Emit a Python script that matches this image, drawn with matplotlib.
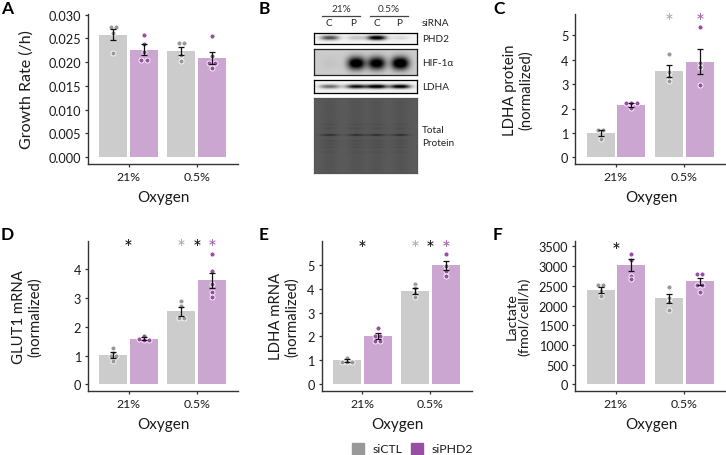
import numpy as np
import matplotlib
matplotlib.use("Agg")
import matplotlib.pyplot as plt

plt.rcParams['font.family'] = ['Lato', 'DejaVu Sans']

W, H = 726, 456
GROUPS = ["21%", "0.5%"]
XLABEL = "Oxygen"
GREY, PURPLE = "#999999", "#984ea3"
BAR_GREY, BAR_PURPLE = "#cccccc", "#cba6d1"

# ---- panel A
a_means = [0.0258, 0.0226, 0.0223, 0.0209]
a_sems = [0.0011, 0.0012, 0.0008, 0.0012]
a_points = [[0.0274, 0.0274, 0.0262, 0.0219],
            [0.0257, 0.0239, 0.0221, 0.02045, 0.02045],
            [0.0240, 0.0240, 0.0214, 0.0202],
            [0.0254, 0.0212, 0.0198, 0.0198, 0.0188]]
a_yticks = [0.000, 0.005, 0.010, 0.015, 0.020, 0.025, 0.030]
# ---- panel C
c_means = [1.0, 2.15, 3.55, 3.92]
c_sems = [0.14, 0.07, 0.25, 0.50]
c_points = [[1.10, 1.10, 0.74], [2.21, 2.21, 2.21, 2.02],
            [4.24, 3.51, 3.30, 3.13], [5.34, 3.87, 3.69, 2.95]]
c_yticks = [0, 1, 2, 3, 4, 5]
# ---- panel D
d_means = [1.02, 1.59, 2.54, 3.63]
d_sems = [0.10, 0.05, 0.15, 0.26]
d_points = [[1.26, 1.08, 0.99, 0.99, 0.81], [1.70, 1.58, 1.56, 1.56],
            [2.90, 2.72, 2.31, 2.31], [4.53, 3.93, 3.49, 3.20, 3.05]]
d_yticks = [0, 1, 2, 3, 4]
# ---- panel E
e_means = [1.0, 2.02, 3.90, 4.98]
e_sems = [0.07, 0.11, 0.12, 0.19]
e_points = [[1.10, 0.93, 0.93, 0.93], [2.37, 2.03, 2.03, 1.82, 1.82],
            [4.19, 4.01, 3.80, 3.63], [5.45, 4.96, 4.73, 4.54]]
e_yticks = [0, 1, 2, 3, 4, 5]
# ---- panel F
f_means = [2392, 3026, 2180, 2612]
f_sems = [70, 145, 115, 95]
f_points = [[2510, 2510, 2375, 2230], [3305, 3160, 2755, 2680],
            [2460, 2190, 2100, 1893], [2800, 2800, 2527, 2527, 2350]]
f_yticks = [0, 500, 1000, 1500, 2000, 2500, 3000, 3500]
# significance stars: (x position in group units, colour key)
star_pos_d = [(0.0, 'k'), (0.775, 'g'), (1.0, 'k'), (1.225, 'p')]
star_pos_c = [(0.775, 'g'), (1.225, 'p')]
star_pos_f = [(0.0, 'k')]
STAR_COL = {'k': '#111111', 'g': '#a8a8a8', 'p': '#a45db0'}

DODGE, BARW = 0.225, 0.41
XLIM = (-0.594, 1.605)


def add_axes(l, t, r, b):
    return fig.add_axes([l / W, 1 - b / H, (r - l) / W, (b - t) / H])


def ftext(x, y, s, **kw):
    kw.setdefault('ha', 'left')
    kw.setdefault('va', 'center')
    fig.text(x / W, 1 - y / H, s, **kw)


def dots_x(values, ylim, height_px, centre, px_per_unit=68.2):
    vals = sorted(values, reverse=True)
    per_px = (ylim[1] - ylim[0]) / height_px
    bins = []
    for v in vals:
        if bins and abs(bins[-1][0] - v) < 2.0 * per_px:
            bins[-1].append(v)
        else:
            bins.append([v])
    xs, ys = [], []
    for bn in bins:
        n = len(bn)
        for i, v in enumerate(bn):
            xs.append(centre + (i - (n - 1) / 2) * 5.3 / px_per_unit)
            ys.append(v)
    return xs, ys


def panel(box, ylim, yticks, means, sems, points, ylabel, ylx, stars=None,
          star_y=None, fmt=None, ylfs=10.7):
    ax = add_axes(*box)
    ax.set_xlim(*XLIM)
    ax.set_ylim(*ylim)
    cents = [-DODGE, DODGE, 1 - DODGE, 1 + DODGE]
    cols = [GREY, PURPLE, GREY, PURPLE]
    bars = [BAR_GREY, BAR_PURPLE, BAR_GREY, BAR_PURPLE]
    ax.bar(cents, means, width=BARW, color=bars, linewidth=0, zorder=1)
    for c, col, pts in zip(cents, cols, points):
        xs, ys = dots_x(pts, ylim, box[3] - box[1], c)
        ax.scatter(xs, ys, s=13, color=col, edgecolor='white', linewidth=0.6,
                   zorder=2, clip_on=False)
    ax.errorbar(cents, means, yerr=sems, fmt='none', ecolor='#111111',
                elinewidth=0.9, capsize=2.5, capthick=0.9, zorder=3)
    for s in ('top', 'right'):
        ax.spines[s].set_visible(False)
    for s in ('left', 'bottom'):
        ax.spines[s].set_color('#333333')
        ax.spines[s].set_linewidth(1.0)
    ax.set_xticks([0, 1], GROUPS)
    ax.set_yticks(yticks)
    if fmt:
        ax.set_yticklabels([fmt % t for t in yticks])
    ax.tick_params(axis='both', length=2.5, width=0.9, color='#333333',
                   labelsize=8.8, labelcolor='#1a1a1a', pad=2.5)
    ax.tick_params(axis='y', labelsize=9.2)
    ftext((box[0] + box[2]) / 2 + 0.5, box[3] + 33, XLABEL, ha='center',
          fontsize=11, color='#1a1a1a')
    ftext(ylx, (box[1] + box[3]) / 2, ylabel, ha='center', rotation=90,
          fontsize=ylfs, color='#1a1a1a', linespacing=1.1, multialignment='center')
    if stars:
        for x, k in stars:
            ax.text(x, star_y, "*", ha='center', va='center', fontsize=15,
                    color=STAR_COL[k], clip_on=False)
    return ax


fig = plt.figure(figsize=(W / 100, H / 100), dpi=100, facecolor='white')

panel((88, 15, 238, 164.7), (-0.0014, 0.03014), a_yticks, a_means, a_sems,
      a_points, "Growth Rate (/h)", 27, fmt="%.3f", ylfs=11.5)
panel((575.3, 15, 725.7, 164.7), (-0.26, 5.87), c_yticks, c_means, c_sems,
      c_points, "LDHA protein\n(normalized)", 518, stars=star_pos_c, star_y=5.56)
panel((88, 241.7, 238, 391.7), (-0.22, 5.0), d_yticks, d_means, d_sems,
      d_points, "GLUT1 mRNA\n(normalized)", 27, stars=star_pos_d, star_y=4.73)
panel((321.7, 241.7, 471.7, 391.7), (-0.265, 6.0), e_yticks, e_means, e_sems,
      e_points, "LDHA mRNA\n(normalized)", 284, stars=star_pos_d, star_y=5.66)
panel((575.3, 241.7, 725.7, 391.7), (-160, 3643), f_yticks, f_means, f_sems,
      f_points, "Lactate\n(fmol/cell/h)", 518, stars=star_pos_f, star_y=3375,
      ylfs=10.4)

# ---- panel letters
for s, x, y in [("A", 1, 8.5), ("B", 259, 8.5), ("C", 493, 8.5),
                ("D", 1, 235), ("E", 259, 235), ("F", 493, 235)]:
    ftext(x, y, s, fontsize=12.5, fontweight='bold', color='black')

# ---- western blots (panel B): lane centres and band strengths
lane_x = [0.15, 0.41, 0.61, 0.84]
phd2_bands = [0.62, 0.18, 1.0, 0.10]
hif_bands = [0.03, 0.90, 0.85, 0.95]
ldha_bands = [0.50, 0.85, 1.0, 0.95]
total_bands_y = [0.36, 0.41, 0.50, 0.58, 0.62, 0.66, 0.73]
total_bands_s = [0.12, 0.15, 0.85, 0.15, 0.15, 0.12, 0.1]


def blot(box, image, border, vmax=1.0):
    ax = add_axes(*box)
    ax.imshow(image, cmap='gray', vmin=0, vmax=vmax, aspect='auto',
              interpolation='bilinear')
    ax.set_xticks([])
    ax.set_yticks([])
    for s in ax.spines.values():
        s.set_color(border)
        s.set_linewidth(0.9)


def band_image(strengths, sx, sy, cy, bg, ny=40, nx=120):
    yy, xx = np.mgrid[0:1:ny * 1j, 0:1:nx * 1j]
    dark = np.zeros_like(xx)
    for cx, st in zip(lane_x, strengths):
        dark += st * np.exp(-((np.abs(xx - cx) / sx) ** 2.5) - ((yy - cy) / sy) ** 2)
    return np.clip(bg - dark * 1.1, 0, 1)


blot((314.3, 33.7, 417, 45.3), band_image(phd2_bands, 0.09, 0.2, 0.48, 0.96), 'black')
blot((314.3, 50.3, 417, 76.3), band_image(hif_bands, 0.085, 0.25, 0.55, 0.80), '#222222')
blot((314.3, 81.3, 417, 94), band_image(ldha_bands, 0.10, 0.16, 0.5, 0.95), 'black')

yy, xx = np.mgrid[0:1:120j, 0:1:160j]
tp = np.full_like(xx, 0.36)
for cx in lane_x:
    lane = np.exp(-((xx - cx) / 0.085) ** 2)
    tp -= 0.03 * lane
    for cy, st in zip(total_bands_y, total_bands_s):
        tp -= 0.22 * st * lane * np.exp(-((yy - cy) / 0.011) ** 2)
blot((314.3, 98.7, 417, 174.3), np.clip(tp, 0, 1), '#555555')

for x0, x1 in [(321.7, 360), (369.7, 408.3)]:
    fig.add_artist(plt.Line2D([x0 / W, x1 / W], [1 - 16.7 / H] * 2, color='#444444', lw=0.9))
BS = 7.2
ftext(341, 10, "21%", ha='center', fontsize=BS, color='#333333')
ftext(389, 10, "0.5%", ha='center', fontsize=BS, color='#333333')
for x, s in [(328.7, "C"), (353.3, "P"), (376.7, "C"), (399, "P")]:
    ftext(x, 24, s, ha='center', fontsize=BS, color='#222222')
for y, s in [(24, "siRNA"), (39.5, "PHD2"), (63, "HIF-1α"), (88, "LDHA"),
             (130.5, "Total"), (143, "Protein")]:
    ftext(422, y, s, fontsize=BS, color='#222222')

# ---- legend
for x, c in [(351.7, GREY), (410.7, PURPLE)]:
    fig.patches.append(plt.Rectangle((x / W, 1 - 456 / H), 12.3 / W, 12.5 / H,
                                     transform=fig.transFigure, color=c))
ftext(373, 450, "siCTL", fontsize=8.8, color='#1a1a1a')
ftext(432, 450, "siPHD2", fontsize=8.8, color='#1a1a1a')

fig.savefig("out.png", dpi=100)
